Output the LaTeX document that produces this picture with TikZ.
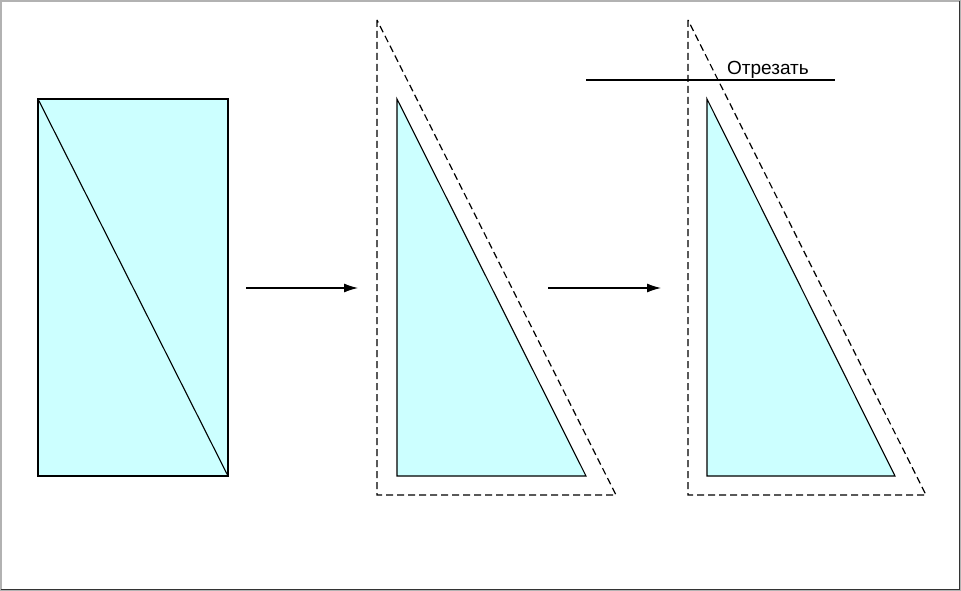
\documentclass[tikz,border=0pt]{standalone}
\usepackage{fontspec}
\setmainfont{Liberation Sans}
\usetikzlibrary{arrows.meta}
\definecolor{paper}{HTML}{CCFFFF}
\begin{document}
\begin{tikzpicture}[x=1pt, y=-1pt,
        piece/.style={draw, fill=paper, line width=1.1pt},
        allowance/.style={draw, line width=1.2pt, dash pattern=on 7pt off 4pt},
        step arrow/.style={-{Latex[length=14pt, width=9pt]}, line width=1.1pt},
        cutlabel/.style={font=\fontsize{19}{22}\selectfont, anchor=base, inner sep=0pt}]
        \useasboundingbox (0,0) rectangle (961,591);
        \draw[gray!60, line width=2pt] (1,1) rectangle (960,590);
        \draw[black!80, line width=1.5pt] (959.5,1) -- (959.5,589.5) -- (1,589.5);

        % rectangle split along its diagonal
        \coordinate (r1) at (38,99);
        \coordinate (r2) at (228,476);
        \draw[piece] (r1) rectangle (r2);
        \draw[line width=1.1pt] (r1) -- (r2);

        % triangle with seam allowance
        \draw[allowance] (377,20) -- (377,495) -- (616,495) -- cycle;
        \draw[piece] (397,99) -- (397,476) -- (586,476) -- cycle;

        % the same, top cut off
        \draw[allowance] (688,20) -- (688,495) -- (926,495) -- cycle;
        \draw[piece] (707,99) -- (707,476) -- (895,476) -- cycle;
        \coordinate (c1) at (586,80);
        \coordinate (c2) at (835,80);
        \draw[line width=1.1pt] (c1) -- (c2);
        \node[cutlabel] (cut) at (768,75) {Отрезать};

        \coordinate (a1) at (246,288);
        \coordinate (a2) at (358,288);
        \coordinate (b1) at (548,288);
        \coordinate (b2) at (661,288);
        \draw[step arrow] (a1) -- (a2);
        \draw[step arrow] (b1) -- (b2);
        \end{tikzpicture}
\end{document}
